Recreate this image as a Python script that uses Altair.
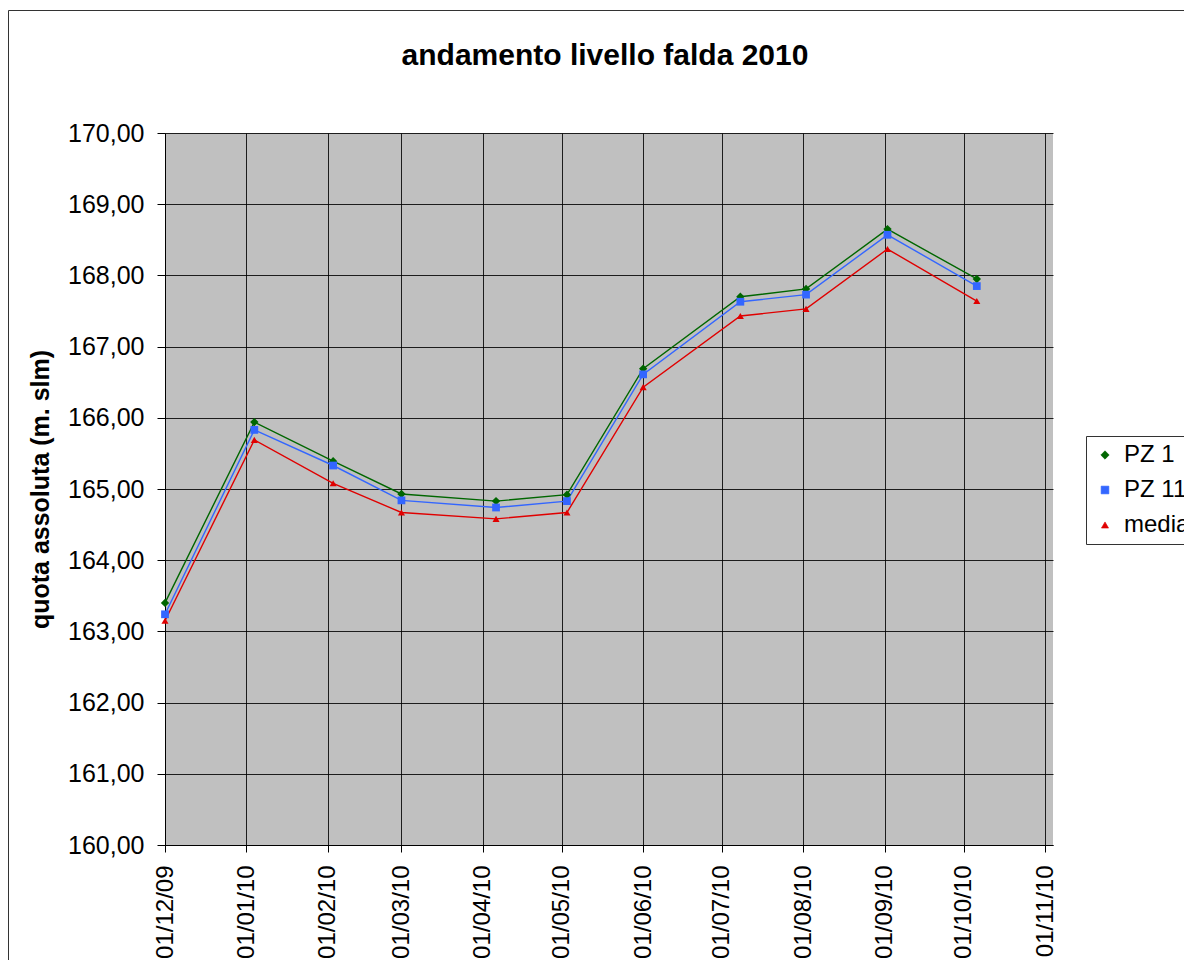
import altair as alt
import pandas as pd

dates = ["2009-12-01", "2010-01-04", "2010-02-03", "2010-03-01", "2010-04-06",
         "2010-05-03", "2010-06-01", "2010-07-08", "2010-08-02", "2010-09-02",
         "2010-10-06"]
pz1 = [163.40, 165.94, 165.39, 164.93, 164.83, 164.92, 166.69, 167.70, 167.81, 168.65, 167.95]
pz11 = [163.24, 165.83, 165.33, 164.84, 164.74, 164.83, 166.61, 167.63, 167.73, 168.57, 167.85]
media = [163.15, 165.69, 165.08, 164.67, 164.58, 164.67, 166.43, 167.43, 167.53, 168.37, 167.64]

series_names = ["PZ 1", "PZ 11", "media"]
series_colors = ["#006600", "#3366FF", "#E00000"]
series_shapes = ["diamond", "square", "triangle-up"]
series_sizes = [70, 50, 60]

month_ticks = [(2009, 12)] + [(2010, m) for m in range(1, 12)]

rows = []
for name, vals in zip(series_names, [pz1, pz11, media]):
    for d, v in zip(dates, vals):
        rows.append({"data": d + "T00:00:00", "serie": name, "marker": name, "quota": v})
df = pd.DataFrame(rows)

W, H = 888, 712
PAD = {"left": 157, "top": 125, "right": 131, "bottom": 115}
FONT = "Liberation Sans"

bar = "M-1,-0.04 L1,-0.04 L1,0.04 L-1,0.04 Z "
legend_shape = (
    "datum.value === 'PZ 1' ? '" + bar + "M0,-0.3 L0.3,0 L0,0.3 L-0.3,0 Z' : "
    "datum.value === 'PZ 11' ? '" + bar + "M-0.24,-0.24 L0.24,-0.24 L0.24,0.24 L-0.24,0.24 Z' : "
    "'" + bar + "M0,-0.3 L0.3,0.2 L-0.3,0.2 Z'"
)
legend_color = "scale('color', datum.value)"

color_scale = alt.Scale(domain=series_names, range=series_colors)

x_enc = alt.X(
    "data:T",
    scale=alt.Scale(domain=[alt.DateTime(year=2009, month=12, date=1),
                            alt.DateTime(year=2010, month=11, date=4)]),
    axis=alt.Axis(
        values=[alt.DateTime(year=y, month=m, date=1) for y, m in month_ticks],
        format="%d/%m/%y",
        labelAngle=270,
        labelAlign="right",
        labelBaseline="middle",
        labelPadding=13,
        labelFontSize=24,
        labelFont=FONT,
        labelColor="black",
        tickSize=7,
        tickColor="black",
        domainColor="black",
        gridColor="black",
        gridOpacity=0.85,
        title=None,
        labelOverlap=False,
        labelFlush=False,
    ),
)
y_enc = alt.Y(
    "quota:Q",
    scale=alt.Scale(domain=[160, 170], nice=False, zero=False),
    axis=alt.Axis(
        values=list(range(160, 171)),
        labelExpr="replace(format(datum.value, '.2f'), '.', ',')",
        labelFontSize=25,
        labelFont=FONT,
        labelColor="black",
        labelPadding=13,
        tickSize=8,
        tickColor="black",
        domainColor="black",
        gridColor="black",
        gridOpacity=0.85,
        title="quota assoluta (m. slm)",
        titleFont=FONT,
        titleFontSize=25,
        titleFontWeight="bold",
        titleColor="black",
        titlePadding=14,
    ),
)

base = alt.Chart(df)

lines = base.mark_line(strokeWidth=1.4).encode(
    x=x_enc,
    y=y_enc,
    color=alt.Color(
        "serie:N",
        scale=color_scale,
        sort=series_names,
        legend=alt.Legend(
            title=None,
            orient="none",
            legendX=921,
            legendY=303,
            padding=7,
            rowPadding=11,
            labelOffset=7,
            labelFontSize=24,
            labelFont=FONT,
            labelColor="black",
            strokeColor="#333333",
            fillColor="white",
            symbolSize=784,
            symbolStrokeWidth=0.6,
            symbolType=alt.ExprRef(expr=legend_shape),
            symbolFillColor=alt.ExprRef(expr=legend_color),
            symbolStrokeColor=alt.ExprRef(expr=legend_color),
            symbolOpacity=1,
        ),
    ),
)

points = base.mark_point(filled=True, opacity=1).encode(
    x="data:T",
    y="quota:Q",
    color=alt.Color("marker:N", scale=color_scale, legend=None),
    shape=alt.Shape("marker:N", scale=alt.Scale(domain=series_names, range=series_shapes), legend=None),
    size=alt.Size("marker:N", scale=alt.Scale(domain=series_names, range=series_sizes), legend=None),
)

frame_df = pd.DataFrame({"k": [0]})
frame_top = alt.Chart(frame_df).mark_rule(color="#333333", strokeWidth=1).encode(
    x=alt.value(-156.5), x2=alt.value(W + PAD["right"]), y=alt.value(-122.5)
)
frame_left = alt.Chart(frame_df).mark_rule(color="#333333", strokeWidth=1).encode(
    x=alt.value(-156.5), y=alt.value(-122.5), y2=alt.value(H + PAD["bottom"])
)

chart = alt.layer(lines, points, frame_top, frame_left).properties(
    width=W,
    height=H,
    autosize=alt.AutoSizeParams(type="none"),
    padding=PAD,
    background="white",
    title=alt.TitleParams(
        "andamento livello falda 2010",
        font=FONT,
        fontSize=30,
        fontWeight="bold",
        color="black",
        anchor="middle",
        frame="group",
        baseline="alphabetic",
        offset=-85,
        dx=-4,
    ),
).configure_view(
    fill="#C0C0C0", stroke=None
)

chart.save("out.html", embed_options={"renderer": "svg", "actions": False})
